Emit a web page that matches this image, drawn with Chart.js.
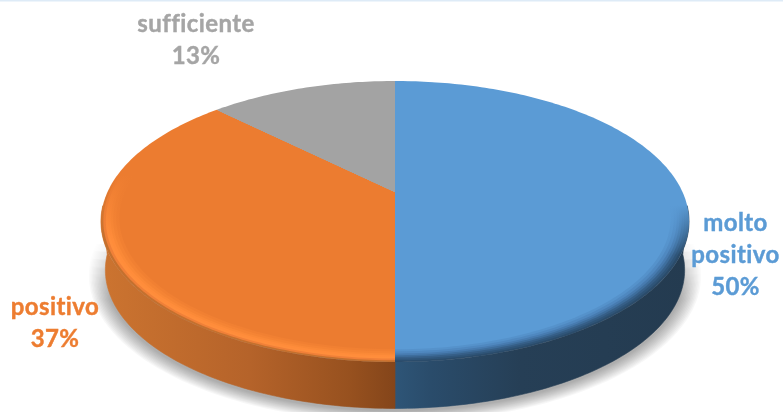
<!DOCTYPE html>
<html>
<head>
<meta charset="utf-8">
<style>
  html, body { margin: 0; padding: 0; background: #fff; overflow: hidden; }
  canvas { display: block; }
</style>
<script src="https://cdn.jsdelivr.net/npm/chart.js@4/dist/chart.umd.js"></script>
</head>
<body>
<canvas id="myChart" width="783" height="412"></canvas>
<script>
const categories = ['molto positivo', 'positivo', 'sufficiente'];
const values = [50, 37.4, 12.6];
const percentLabels = ['50%', '37%', '13%'];
const labelLines = [['molto', 'positivo'], ['positivo'], ['sufficiente']];
const colors = ['#5B9BD5', '#EC7C30', '#A3A3A3'];
const labelColors = ['#5B9BD5', '#ED7D31', '#A5A5A5'];

// tilted disc: projection of the unit circle of the pie onto the page
const CX = 395, CY = 192, A = 287.5, B = 134.3, K = 0.21;
const DEPTH = 49, BOTTOM_SCALE = 0.985;
const STEP = Math.PI / 180;

function project(angle, r, depth) {
    const u = r * Math.cos(angle);
    const v = -r * Math.sin(angle);
    const s = depth ? BOTTOM_SCALE : 1;
    const w = 1 + K * v;
    return [CX + s * A * u / w, CY + (depth || 0) - s * B * v / w];
}

function arcPoints(ctx, a0, a1, r, depth, first) {
    const n = Math.max(1, Math.ceil(Math.abs(a1 - a0) / STEP));
    for (let i = 0; i <= n; i++) {
        const p = project(a0 + (a1 - a0) * i / n, r, depth);
        if (first && i === 0) ctx.moveTo(p[0], p[1]);
        else ctx.lineTo(p[0], p[1]);
    }
}

function sector(ctx, a0, a1, r) {
    ctx.beginPath();
    ctx.moveTo(CX, CY);
    arcPoints(ctx, a0, a1, r, 0, false);
    ctx.closePath();
}

function sideGradient(ctx, stops) {
    const g = ctx.createLinearGradient(100, 0, 690, 0);
    stops.forEach(s => g.addColorStop((s[0] - 100) / 590, s[1]));
    return g;
}

function rimGradient(ctx, flat, rim, y0, y1) {
    const g = ctx.createLinearGradient(0, y0, 0, y1);
    g.addColorStop(0, flat);
    g.addColorStop(1, rim);
    return g;
}

const sideStops = [
    [[395, '#2E5577'], [430, '#2A4C6B'], [520, '#263F56'], [690, '#243B50']],
    [[100, '#CC7430'], [250, '#B5632A'], [350, '#97511F'], [395, '#84451A']],
    [[100, '#7C7C7C'], [690, '#7C7C7C']]
];
// where the bevel fades in, per slice
const rimFade = [[205, 255], [175, 240], [175, 240]];
// radius of each bevel ring, outer first, with its colour per slice
const rimRings = [
    [1.0, '#2B4C6B', '#C4702E', '#A3A3A3'],
    [0.992, '#2F5579', '#F08038', '#A3A3A3'],
    [0.984, '#365F88', '#FF8E3C', '#A3A3A3'],
    [0.976, '#3E6E9D', '#FF8C3A', '#A3A3A3'],
    [0.968, '#477BB0', '#FA8937', '#A3A3A3'],
    [0.96, '#4F88C0', '#F58434', '#A3A3A3'],
    [0.95, '#5592CB', '#F18032', '#A3A3A3'],
    [0.94, '#5B9BD5', '#EC7C30', '#A3A3A3']
];

const pie3d = {
    id: 'pie3d',
    beforeDatasetsDraw(chart) {
        const ctx = chart.ctx;
        const arcs = chart.getDatasetMeta(0).data;

        ctx.save();
        ctx.fillStyle = '#DEEBF7';
        ctx.fillRect(0, 0, chart.width, 1.5);

        // soft shadow under the disc, stacked translucent outlines
        ctx.save();
        const fade = ctx.createLinearGradient(0, 240, 0, 300);
        fade.addColorStop(0, 'rgba(0,0,0,0)');
        fade.addColorStop(1, 'rgba(0,0,0,0.032)');
        ctx.fillStyle = fade;
        for (let k = 12; k >= 1; k--) {
            ctx.beginPath();
            arcPoints(ctx, 0, Math.PI * 2, 1 + k * 0.0045, DEPTH + 2, true);
            ctx.closePath();
            ctx.fill();
        }
        ctx.restore();

        // side wall, front half only
        arcs.forEach((arc, i) => {
            const a0 = Math.max(arc.startAngle, 0.1);
            const a1 = Math.min(arc.endAngle, Math.PI - 0.1);
            if (a1 <= a0) return;
            ctx.beginPath();
            arcPoints(ctx, a0, a1, 1, 0, true);
            arcPoints(ctx, a1, a0, 1, DEPTH, false);
            ctx.closePath();
            ctx.fillStyle = sideGradient(ctx, sideStops[i]);
            ctx.fill();
            ctx.strokeStyle = ctx.fillStyle;
            ctx.lineWidth = 0.6;
            ctx.stroke();
        });

        // top face: rings painted from the edge inwards, fading out towards the back
        arcs.forEach((arc, i) => {
            rimRings.forEach(ring => {
                sector(ctx, arc.startAngle, arc.endAngle, ring[0]);
                ctx.fillStyle = rimGradient(ctx, colors[i], ring[i + 1], rimFade[i][0], rimFade[i][1]);
                ctx.fill();
            });
        });

        // labels
        ctx.font = 'bold 24px Lato, "Open Sans", sans-serif';
        ctx.letterSpacing = '0.4px';
        ctx.textAlign = 'center';
        ctx.textBaseline = 'alphabetic';
        ctx.lineWidth = 0.4;
        const labelPos = [[735.5, 231], [55, 315], [196, 32]];
        categories.forEach((c, i) => {
            const lines = labelLines[i].concat(percentLabels[i]);
            ctx.fillStyle = labelColors[i];
            ctx.strokeStyle = labelColors[i];
            lines.forEach((t, j) => {
                ctx.fillText(t, labelPos[i][0], labelPos[i][1] + j * 32);
                ctx.strokeText(t, labelPos[i][0], labelPos[i][1] + j * 32);
            });
        });
        ctx.restore();
        return false;
    }
};

const myChart = new Chart(document.getElementById('myChart'), {
    type: 'pie',
    data: {
        labels: categories,
        datasets: [{ data: values, backgroundColor: colors, borderWidth: 0 }]
    },
    options: {
        responsive: false,
        animation: false,
        events: [],
        plugins: { legend: { display: false }, tooltip: { enabled: false } }
    },
    plugins: [pie3d]
});
</script>
</body>
</html>
